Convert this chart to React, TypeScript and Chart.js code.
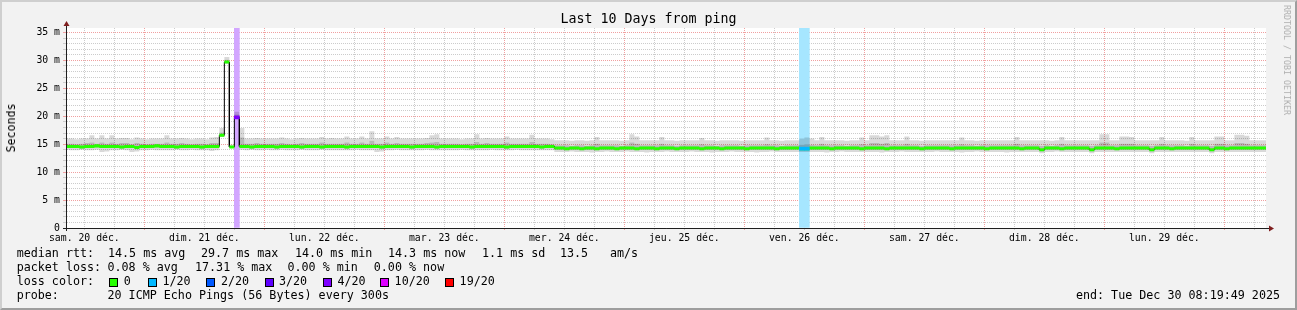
import React, { useEffect, useRef } from "react";
import { Chart, registerables } from "chart.js";

Chart.register(...registerables);

const MONO = "'DejaVu Sans Mono', 'Liberation Mono', monospace";

// ---- time axis: hours after graph start (Sat Dec 20 08:19:49 2025), 10 days ----
const SPAN_HOURS = 240;
const FIRST_HOUR_OFFSET = 40 / 60 + 11 / 3600; // 09:00:00 - 08:19:49
const FIRST_NOON_OFFSET = 3 + FIRST_HOUR_OFFSET; // 12:00:00 - 08:19:49
const DAY_LABELS = [
  "sam. 20 déc.",
  "dim. 21 déc.",
  "lun. 22 déc.",
  "mar. 23 déc.",
  "mer. 24 déc.",
  "jeu. 25 déc.",
  "ven. 26 déc.",
  "sam. 27 déc.",
  "dim. 28 déc.",
  "lun. 29 déc.",
];

// ---- value axis (ms) ----
const Y_MAX = 35.8;
const Y_TICKS = Array.from({ length: 36 }, (_, i) => i);

// ---- hourly bins (bin 0 = partial hour 08:19:49 → 09:00) ----
const MEDIAN = [
  14.6,14.6,14.6,14.5,14.6,14.6,14.7,14.6,14.6,14.6,
  14.6,14.5,14.6,14.6,14.4,14.6,14.6,14.6,14.7,14.6,
  14.6,14.6,14.5,14.6,14.6,14.6,14.6,14.5,14.6,14.6,
  14.6,
  16.6,29.7,14.5,19.8,
  14.6,14.6,14.5,14.6,14.6,
  14.6,14.6,14.5,14.6,14.6,14.6,14.6,14.5,14.6,14.6,
  14.6,14.5,14.6,14.6,14.6,14.6,14.5,14.6,14.6,14.6,
  14.6,14.6,14.6,14.5,14.6,14.6,14.6,14.6,14.6,14.5,
  14.6,14.6,14.6,14.6,14.5,14.6,14.6,14.6,14.6,14.6,
  14.6,14.5,14.6,14.6,14.6,14.6,14.6,14.6,14.5,14.6,
  14.6,14.6,14.6,14.6,14.6,14.5,14.6,14.6,
  14.3,14.3,
  14.2,14.3,14.3,14.2,14.3,14.3,14.2,14.3,14.3,14.3,
  14.2,14.3,14.3,14.3,14.2,14.3,14.3,14.3,14.2,14.3,
  14.3,14.3,14.2,14.3,14.3,14.3,14.3,14.2,14.3,14.3,
  14.3,14.2,14.3,14.3,14.3,14.3,14.2,14.3,14.3,14.3,
  14.3,14.3,14.2,14.3,14.3,14.3,14.3,14.2,14.2,14.3,
  14.3,14.3,14.3,14.2,14.3,14.3,14.3,14.3,14.3,14.2,
  14.3,14.3,14.3,14.3,14.2,14.3,14.3,14.3,14.3,14.3,
  14.3,14.2,14.3,14.3,14.3,14.3,14.3,14.2,14.3,14.3,
  14.3,14.3,14.3,14.3,14.2,14.3,14.3,14.3,14.3,14.3,
  14.3,14.2,14.3,14.3,14.3,14.0,14.3,14.3,14.3,14.2,
  14.3,14.3,14.3,14.3,14.3,14.0,14.3,14.3,14.3,14.3,
  14.2,14.3,14.3,14.3,14.3,14.3,14.3,14.0,14.3,14.3,
  14.3,14.2,14.3,14.3,14.3,14.3,14.3,14.3,14.3,14.0,
  14.3,14.3,14.2,14.3,14.3,14.3,14.3,14.3,14.3,14.3,
  14.3,
];

const SMOKE_MIN = [
  14.0,13.9,13.9,14.0,13.9,13.9,14.0,13.6,13.7,13.9,
  13.9,14.0,13.9,13.6,13.7,13.9,13.9,14.0,13.9,13.9,
  13.9,13.9,14.0,13.9,13.9,14.0,13.9,13.9,13.9,13.8,
  13.9,
  16.3,29.4,14.3,19.5,
  14.0,13.9,14.0,13.9,13.9,
  14.0,13.9,13.9,14.0,13.9,13.9,13.9,14.0,13.9,13.9,
  13.9,14.0,13.9,13.9,13.9,13.9,13.9,13.9,14.0,13.9,
  13.9,13.9,13.6,13.7,13.9,13.9,14.0,13.9,13.9,13.9,
  13.9,13.9,14.0,13.9,13.9,13.9,13.9,13.9,13.9,14.0,
  13.9,13.9,13.9,13.9,13.9,14.0,13.9,13.9,13.9,13.9,
  14.0,13.9,13.9,13.9,13.9,13.9,13.9,13.9,
  13.6,13.6,
  13.6,13.7,13.6,13.6,13.6,13.5,13.6,13.6,13.7,13.6,
  13.6,13.6,13.7,13.6,13.6,13.6,13.5,13.6,13.6,13.6,
  13.7,13.6,13.6,13.6,13.6,13.7,13.6,13.6,13.6,13.5,
  13.6,13.6,13.6,13.7,13.6,13.6,13.6,13.6,13.5,13.6,
  13.6,13.7,13.6,13.6,13.6,13.6,13.6,13.6,13.6,13.6,
  13.6,13.6,13.5,13.6,13.6,13.7,13.6,13.6,13.6,13.6,
  13.6,13.6,13.6,13.5,13.6,13.6,13.6,13.7,13.6,13.6,
  13.6,13.6,13.6,13.6,13.7,13.6,13.6,13.6,13.6,13.5,
  13.6,13.6,13.7,13.6,13.6,13.6,13.6,13.6,13.5,13.6,
  13.6,13.6,13.6,13.6,13.6,13.4,13.6,13.6,13.7,13.6,
  13.6,13.6,13.6,13.6,13.6,13.4,13.6,13.6,13.6,13.6,
  13.6,13.6,13.6,13.6,13.6,13.6,13.6,13.4,13.6,13.6,
  13.6,13.6,13.6,13.6,13.6,13.6,13.6,13.6,13.6,13.4,
  13.6,13.6,13.6,13.6,13.6,13.6,13.6,13.6,13.6,13.6,
  13.6,
];

const SMOKE_LOW = [
  14.3,14.3,14.3,14.2,14.3,14.3,14.4,14.3,14.3,14.3,
  14.3,14.2,14.3,14.3,14.1,14.3,14.3,14.3,14.4,14.3,
  14.3,14.3,14.2,14.3,14.3,14.3,14.3,14.2,14.3,14.3,
  14.3,
  16.4,29.5,14.4,19.6,
  14.3,14.3,14.2,14.3,14.3,
  14.3,14.3,14.2,14.3,14.3,14.3,14.3,14.2,14.3,14.3,
  14.3,14.2,14.3,14.3,14.3,14.3,14.2,14.3,14.3,14.3,
  14.3,14.3,14.3,14.2,14.3,14.3,14.3,14.3,14.3,14.2,
  14.3,14.3,14.3,14.3,14.2,14.3,14.3,14.3,14.3,14.3,
  14.3,14.2,14.3,14.3,14.3,14.3,14.3,14.3,14.2,14.3,
  14.3,14.3,14.3,14.3,14.3,14.2,14.3,14.3,
  14.0,14.0,
  13.9,14.0,14.0,13.9,14.0,14.0,13.9,14.0,14.0,14.0,
  13.9,14.0,14.0,14.0,13.9,14.0,14.0,14.0,13.9,14.0,
  14.0,14.0,13.9,14.0,14.0,14.0,14.0,13.9,14.0,14.0,
  14.0,13.9,14.0,14.0,14.0,14.0,13.9,14.0,14.0,14.0,
  14.0,14.0,13.9,14.0,14.0,14.0,14.0,13.9,13.9,14.0,
  14.0,14.0,14.0,13.9,14.0,14.0,14.0,14.0,14.0,13.9,
  14.0,14.0,14.0,14.0,13.9,14.0,14.0,14.0,14.0,14.0,
  14.0,13.9,14.0,14.0,14.0,14.0,14.0,13.9,14.0,14.0,
  14.0,14.0,14.0,14.0,13.9,14.0,14.0,14.0,14.0,14.0,
  14.0,13.9,14.0,14.0,14.0,13.7,14.0,14.0,14.0,13.9,
  14.0,14.0,14.0,14.0,14.0,13.7,14.0,14.0,14.0,14.0,
  13.9,14.0,14.0,14.0,14.0,14.0,14.0,13.7,14.0,14.0,
  14.0,13.9,14.0,14.0,14.0,14.0,14.0,14.0,14.0,13.7,
  14.0,14.0,13.9,14.0,14.0,14.0,14.0,14.0,14.0,14.0,
  14.0,
];

const SMOKE_HIGH = [
  15.1,15.1,15.0,15.1,15.2,15.3,15.1,15.3,15.1,15.3,
  15.1,15.2,15.2,15.0,15.2,15.1,15.0,15.1,15.1,15.1,
  15.3,15.1,15.1,15.2,15.1,15.0,15.1,15.1,15.0,15.2,
  15.2,
  17.1,30.1,14.7,20.3,
  16.2,15.1,15.1,15.2,15.1,
  15.1,15.1,15.1,15.2,15.1,15.0,15.1,15.2,15.1,15.1,
  15.1,15.3,15.1,15.1,15.1,15.1,15.3,15.1,15.1,15.3,
  15.1,15.6,15.1,15.1,15.3,15.1,15.2,15.1,15.1,15.1,
  15.1,15.1,15.2,15.3,15.4,15.1,15.1,15.1,15.1,15.0,
  15.1,15.1,15.4,15.1,15.2,15.1,15.1,15.1,15.3,15.1,
  15.1,15.1,15.1,15.4,15.1,15.1,15.1,15.0,
  14.8,14.8,
  14.8,14.7,14.8,14.8,14.7,14.8,15.1,14.8,14.8,14.8,
  14.8,14.7,14.8,15.3,15.1,14.8,14.8,14.8,14.8,15.1,
  14.8,14.8,14.7,14.8,14.8,14.8,14.8,15.0,14.8,14.8,
  14.7,14.8,14.8,14.8,14.8,14.7,14.8,14.8,14.8,14.8,
  15.0,14.8,14.8,14.7,14.8,14.8,14.8,14.9,15.0,14.9,
  14.8,15.1,14.8,14.8,14.8,14.8,14.7,14.8,14.8,15.0,
  14.8,15.2,15.2,15.1,15.2,14.8,14.8,14.8,15.1,14.8,
  14.8,14.7,14.8,14.8,14.8,14.8,14.8,14.8,14.8,15.0,
  14.8,14.8,14.7,14.8,14.8,14.8,14.8,14.8,14.8,14.8,
  15.1,14.8,14.8,14.8,14.8,14.7,14.8,14.7,14.8,15.1,
  14.8,14.8,14.8,14.8,14.8,14.7,14.8,15.3,15.3,14.8,
  14.8,15.1,15.1,15.1,14.8,14.8,14.8,14.7,14.8,15.1,
  14.8,14.8,14.8,14.8,14.7,15.1,14.8,14.8,14.8,14.7,
  15.1,15.1,14.8,14.8,15.2,15.2,15.1,14.8,14.8,14.8,
  14.8,
];

const SMOKE_MAX = [
  16.0,16.0,15.9,16.0,16.0,16.6,16.0,16.6,16.0,16.6,
  16.0,16.1,16.1,15.9,16.2,16.0,15.9,16.0,16.0,16.0,
  16.6,16.0,16.0,16.1,16.0,15.9,16.0,16.0,15.9,16.2,
  16.3,
  17.9,30.6,14.9,20.8,
  17.9,16.0,16.0,16.1,16.0,
  16.0,16.0,16.0,16.2,16.0,15.9,16.0,16.1,16.0,16.0,
  16.0,16.3,16.0,16.1,16.0,16.0,16.4,16.0,16.0,16.4,
  16.0,17.3,16.0,16.0,16.4,16.0,16.3,16.0,16.0,16.0,
  16.0,16.0,16.1,16.6,16.8,16.0,16.0,16.0,16.0,15.9,
  16.0,16.0,16.8,16.0,16.1,16.0,16.0,16.0,16.4,16.0,
  16.0,16.0,16.0,16.7,16.0,16.0,16.0,15.9,
  15.7,15.7,
  15.7,15.6,15.7,15.7,15.6,15.7,16.3,15.7,15.7,15.7,
  15.7,15.6,15.7,16.8,16.4,15.7,15.7,15.7,15.7,16.3,
  15.7,15.7,15.6,15.7,15.7,15.7,15.7,16.1,15.7,15.7,
  15.6,15.7,15.7,15.7,15.7,15.6,15.7,15.7,15.7,15.7,
  16.2,15.7,15.7,15.6,15.7,15.7,15.7,16.0,16.2,16.0,
  15.7,16.3,15.7,15.7,15.7,15.7,15.6,15.7,15.7,16.2,
  15.7,16.6,16.6,16.4,16.6,15.7,15.7,15.7,16.4,15.7,
  15.7,15.6,15.7,15.7,15.7,15.7,15.7,15.7,15.7,16.2,
  15.7,15.7,15.6,15.7,15.7,15.7,15.7,15.7,15.7,15.7,
  16.3,15.7,15.7,15.7,15.7,15.7,15.7,15.6,15.7,16.3,
  15.7,15.7,15.7,15.7,15.7,15.7,15.7,16.8,16.8,15.7,
  15.7,16.4,16.4,16.3,15.7,15.7,15.7,15.7,15.7,16.3,
  15.7,15.7,15.7,15.7,15.6,16.3,15.7,15.7,15.7,15.7,
  16.4,16.4,15.7,15.7,16.7,16.7,16.5,15.7,15.7,15.7,
  15.7,
];

// bins with packet loss (lost pings out of 20)
const LOSS_BINS = [34, 147, 148];
const LOSS_PINGS = [4, 1, 1];

// smokeping loss colour scale
const LOSS_STEPS = [0, 1, 2, 3, 4, 10, 19];
const LOSS_NAMES = ["0", "1/20", "2/20", "3/20", "4/20", "10/20", "19/20"];
const LOSS_COLORS = ["#26ff00", "#00b8ff", "#0059ff", "#5e00ff", "#7e00ff", "#dd00ff", "#ff0000"];

// ---- styles ----
const MED_HALF = 0.27;
const SMOKE_LIGHT = "rgba(0,0,0,0.15)";
const SMOKE_MID = "rgba(0,0,0,0.28)";
const GRID_MINOR = "#cccccc";
const GRID_MAJOR = "#f0a0a0";
const AXIS_COLOR = "#1f1f1f";
const ARROW_COLOR = "#7f1f1f";

const lossIndex = (p: number) => {
  for (let i = 0; i < LOSS_STEPS.length; i++) if (p <= LOSS_STEPS[i]) return i;
  return LOSS_STEPS.length - 1;
};
const lightOf = (hex: string, a: number) => {
  const n = parseInt(hex.slice(1), 16);
  const c = [(n >> 16) & 255, (n >> 8) & 255, n & 255].map((v) => Math.round(255 - a * (255 - v)));
  return `rgb(${c[0]},${c[1]},${c[2]})`;
};

const binEdge = (k: number) => k - 1 + FIRST_HOUR_OFFSET;
const binCenter = (k: number) => binEdge(k) + 0.5;
// each hourly bin becomes a flat segment from its left edge to its right edge
const stepPoints = (vals: number[]) => {
  const pts: { x: number; y: number }[] = [];
  vals.forEach((y, k) => {
    pts.push({ x: binEdge(k), y });
    pts.push({ x: binEdge(k + 1), y });
  });
  return pts;
};

const X_GRID: number[] = [];
for (let t = FIRST_NOON_OFFSET; t <= SPAN_HOURS; t += 6) X_GRID.push(t);

const isMidnight = (v: number) => {
  const r = (((v - FIRST_NOON_OFFSET - 12) % 24) + 24) % 24;
  return r < 1e-6 || r > 24 - 1e-6;
};
const dayLabel = (v: number) => {
  const d = (v - FIRST_NOON_OFFSET) / 24;
  const r = Math.round(d);
  return Math.abs(d - r) < 1e-6 && DAY_LABELS[r] ? DAY_LABELS[r] : "";
};

const framePlugin = {
  id: "rrdFrame",
  beforeDraw(chart: any) {
    const { ctx, chartArea: a } = chart;
    ctx.save();
    ctx.fillStyle = "#ffffff";
    ctx.fillRect(a.left, a.top, a.right - a.left, a.bottom - a.top);
    ctx.restore();
  },
  afterDraw(chart: any) {
    const { ctx, chartArea: a } = chart;
    const yb = a.bottom + 0.5;
    const xl = a.left + 0.5;
    ctx.save();
    ctx.strokeStyle = AXIS_COLOR;
    ctx.lineWidth = 1;
    ctx.beginPath();
    ctx.moveTo(a.left - 3, yb);
    ctx.lineTo(a.right + 4, yb);
    ctx.moveTo(xl, a.bottom + 3);
    ctx.lineTo(xl, a.top - 3);
    ctx.stroke();
    ctx.fillStyle = ARROW_COLOR;
    ctx.beginPath();
    ctx.moveTo(a.right + 3, yb - 3);
    ctx.lineTo(a.right + 8, yb);
    ctx.lineTo(a.right + 3, yb + 3);
    ctx.closePath();
    ctx.fill();
    ctx.beginPath();
    ctx.moveTo(xl - 3, a.top - 2);
    ctx.lineTo(xl, a.top - 7);
    ctx.lineTo(xl + 3, a.top - 2);
    ctx.closePath();
    ctx.fill();
    ctx.restore();
  },
};

const lineBase = {
  type: "line",
  stepped: false,
  pointRadius: 0,
  pointHoverRadius: 0,
  borderWidth: 0,
  tension: 0,
};

function buildConfig(): any {
  const lossBg = LOSS_PINGS.map((p) => lightOf(LOSS_COLORS[lossIndex(p)], 0.35));
  const lossFg = LOSS_PINGS.map((p) => LOSS_COLORS[lossIndex(p)]);
  return {
    type: "line",
    data: {
      datasets: [
        { ...lineBase, label: "smoke min", data: stepPoints(SMOKE_MIN), fill: false, order: 20 },
        { ...lineBase, label: "smoke low", data: stepPoints(SMOKE_LOW), fill: "-1", backgroundColor: SMOKE_LIGHT, order: 19 },
        { ...lineBase, label: "smoke high", data: stepPoints(SMOKE_HIGH), fill: "-1", backgroundColor: SMOKE_MID, order: 18 },
        { ...lineBase, label: "smoke max", data: stepPoints(SMOKE_MAX), fill: "-1", backgroundColor: SMOKE_LIGHT, order: 17 },
        { ...lineBase, label: "median low", data: stepPoints(MEDIAN.map((m) => m - MED_HALF)), fill: false, order: 5 },
        { ...lineBase, label: "median rtt", data: stepPoints(MEDIAN.map((m) => m + MED_HALF)), fill: "-1", backgroundColor: LOSS_COLORS[0], order: 4 },
        { ...lineBase, label: "median line", data: stepPoints(MEDIAN), borderWidth: 1, borderColor: "#000000", fill: false, order: 6 },
        {
          type: "bar",
          label: "loss background",
          data: LOSS_BINS.map((k) => ({ x: binCenter(k), y: [0, Y_MAX] })),
          backgroundColor: lossBg,
          grouped: false,
          barPercentage: 1,
          categoryPercentage: 1,
          borderWidth: 0,
          order: 30,
        },
        {
          type: "bar",
          label: "median loss colour",
          data: LOSS_BINS.map((k) => ({ x: binCenter(k), y: [MEDIAN[k] - MED_HALF, MEDIAN[k] + MED_HALF] })),
          backgroundColor: lossFg,
          grouped: false,
          barPercentage: 1,
          categoryPercentage: 1,
          borderWidth: 0,
          order: 3,
        },
      ],
    },
    options: {
      animation: false,
      responsive: false,
      devicePixelRatio: 1,
      events: [],
      layout: { padding: { left: 0, top: 28, right: 31, bottom: 62 } },
      plugins: { legend: { display: false }, tooltip: { enabled: false }, title: { display: false } },
      scales: {
        x: {
          type: "linear",
          min: 0,
          max: SPAN_HOURS,
          bounds: "data",
          offset: false,
          afterBuildTicks: (s: any) => {
            s.ticks = X_GRID.map((value) => ({ value }));
          },
          afterFit: (s: any) => {
            s.height = 20;
          },
          ticks: {
            autoSkip: false,
            maxRotation: 0,
            minRotation: 0,
            padding: 3,
            color: "#000000",
            font: { family: MONO, size: 9.8 },
            callback: (v: number) => dayLabel(v),
          },
          grid: {
            offset: false,
            color: (c: any) => (c.tick && isMidnight(c.tick.value) ? GRID_MAJOR : GRID_MINOR),
            lineWidth: 1,
            drawTicks: true,
            tickLength: 2,
          },
          border: { display: true, color: AXIS_COLOR, width: 1, dash: [1, 1] },
        },
        y: {
          type: "linear",
          min: 0,
          max: Y_MAX,
          bounds: "data",
          afterBuildTicks: (s: any) => {
            s.ticks = Y_TICKS.map((value) => ({ value }));
          },
          afterFit: (s: any) => {
            s.width = 66;
          },
          ticks: {
            autoSkip: false,
            padding: 3,
            color: "#000000",
            font: { family: MONO, size: 9.8 },
            callback: (v: number) => (v % 5 === 0 ? (v === 0 ? "0" : `${v} m`) : ""),
          },
          grid: {
            color: (c: any) => {
              const v = c.tick ? c.tick.value : -1;
              if (v === 0) return "rgba(0,0,0,0)";
              return v % 5 === 0 ? GRID_MAJOR : GRID_MINOR;
            },
            tickColor: (c: any) => {
              const v = c.tick ? c.tick.value : -1;
              if (v === 0) return AXIS_COLOR;
              return v % 5 === 0 ? GRID_MAJOR : GRID_MINOR;
            },
            lineWidth: 1,
            drawTicks: true,
            tickLength: 3,
          },
          border: { display: true, color: AXIS_COLOR, width: 1, dash: [1, 1] },
        },
      },
    },
    plugins: [framePlugin],
  };
}

const LEG_FS = 11.7;

function T(props: { x: number; y: number; children: any; style?: any }) {
  return (
    <div
      style={{
        position: "absolute",
        left: props.x,
        top: props.y,
        fontSize: LEG_FS,
        lineHeight: "14px",
        whiteSpace: "pre",
        color: "#000",
        ...(props.style || {}),
      }}
    >
      {props.children}
    </div>
  );
}

const RTT_ITEMS: [number, string][] = [
  [16.7, "median rtt:"],
  [108, "14.5 ms avg"],
  [201, "29.7 ms max"],
  [295, "14.0 ms min"],
  [388, "14.3 ms now"],
  [482, "1.1 ms sd"],
  [560, "13.5"],
  [610, "am/s"],
];
const PL_ITEMS: [number, string][] = [
  [16.7, "packet loss:"],
  [107.5, "0.08 % avg"],
  [195, "17.31 % max"],
  [287.5, "0.00 % min"],
  [373.8, "0.00 % now"],
];
const LOSS_BOX_X = [109, 148, 206, 264.6, 323, 380, 445];
const LOSS_TEXT_X = [123.8, 162.5, 221, 279, 337.5, 394.6, 459.6];

export default function App() {
  const ref = useRef<HTMLCanvasElement | null>(null);
  useEffect(() => {
    if (!ref.current) return;
    const chart = new Chart(ref.current, buildConfig());
    return () => chart.destroy();
  }, []);
  return (
    <div
      style={{
        position: "absolute",
        left: 0,
        top: 0,
        width: 1297,
        height: 310,
        background: "#f2f2f2",
        overflow: "hidden",
        fontFamily: MONO,
      }}
    >
      <div
        style={{
          position: "absolute",
          left: 0,
          top: 0,
          width: 1297,
          height: 310,
          boxSizing: "border-box",
          borderStyle: "solid",
          borderWidth: 2,
          borderColor: "#cfcfcf #9e9e9e #9e9e9e #cfcfcf",
        }}
      />
      <canvas ref={ref} width={1297} height={310} style={{ position: "absolute", left: 0, top: 0, width: 1297, height: 310 }} />
      <div
        style={{
          position: "absolute",
          left: 0,
          top: 11,
          width: 1297,
          textAlign: "center",
          fontSize: 13.3,
          lineHeight: "16px",
          whiteSpace: "pre",
        }}
      >
        Last 10 Days from ping
      </div>
      <div
        style={{
          position: "absolute",
          left: 10.6,
          top: 127.5,
          transform: "translate(-50%, -50%) rotate(-90deg)",
          fontSize: 11.6,
          lineHeight: "14px",
          whiteSpace: "nowrap",
        }}
      >
        Seconds
      </div>
      <div
        style={{
          position: "absolute",
          left: 1286.7,
          top: 60,
          transform: "translate(-50%, -50%) rotate(90deg)",
          fontSize: 8.3,
          lineHeight: "10px",
          whiteSpace: "nowrap",
          color: "#b0b0b0",
        }}
      >
        RRDTOOL / TOBI OETIKER
      </div>
      {RTT_ITEMS.map(([x, t], i) => (
        <T key={"r" + i} x={x} y={246}>
          {t}
        </T>
      ))}
      {PL_ITEMS.map(([x, t], i) => (
        <T key={"p" + i} x={x} y={260}>
          {t}
        </T>
      ))}
      <T x={16.7} y={274}>
        loss color:
      </T>
      {LOSS_NAMES.map((n, i) => (
        <React.Fragment key={"l" + i}>
          <div
            style={{
              position: "absolute",
              left: LOSS_BOX_X[i],
              top: 278,
              width: 9,
              height: 9,
              boxSizing: "border-box",
              border: "1px solid #000",
              background: LOSS_COLORS[i],
            }}
          />
          <T x={LOSS_TEXT_X[i]} y={274}>
            {n}
          </T>
        </React.Fragment>
      ))}
      <T x={16.7} y={288}>
        probe:
      </T>
      <T x={107.5} y={288}>
        20 ICMP Echo Pings (56 Bytes) every 300s
      </T>
      <T x={0} y={288} style={{ left: "auto", right: 17, textAlign: "right" }}>
        end: Tue Dec 30 08:19:49 2025
      </T>
    </div>
  );
}
